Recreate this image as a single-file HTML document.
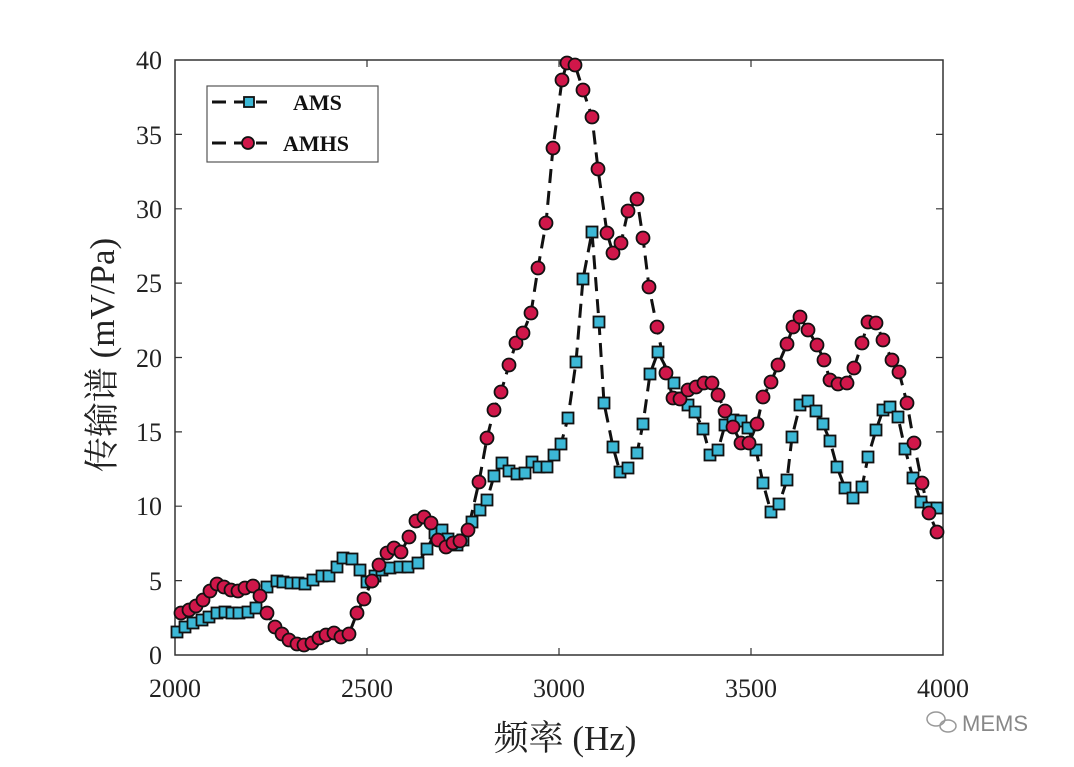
<!DOCTYPE html>
<html><head><meta charset="utf-8"><style>body{margin:0;background:#fff}svg{display:block}</style></head><body>
<svg width="1074" height="767" xmlns="http://www.w3.org/2000/svg" font-family="Liberation Serif, serif">
<rect width="1074" height="767" fill="#fff"/>
<rect x="175" y="60" width="768" height="595" fill="none" stroke="#333" stroke-width="1.5"/>
<g stroke="#333" stroke-width="1.2">
<path d="M367,655v-7M559,655v-7M751,655v-7M367,60v7M559,60v7M751,60v7"/>
<path d="M175,580.6h7M175,506.2h7M175,431.9h7M175,357.5h7M175,283.1h7M175,208.8h7M175,134.4h7"/>
<path d="M943,580.6h-7M943,506.2h-7M943,431.9h-7M943,357.5h-7M943,283.1h-7M943,208.8h-7M943,134.4h-7"/>
</g>
<g font-size="26" fill="#222" text-anchor="end">
<text x="162" y="664">0</text><text x="162" y="590">5</text><text x="162" y="515">10</text><text x="162" y="441">15</text><text x="162" y="367">20</text><text x="162" y="292">25</text><text x="162" y="218">30</text><text x="162" y="144">35</text><text x="162" y="69">40</text>
</g>
<g font-size="26" fill="#222" text-anchor="middle">
<text x="175" y="697">2000</text><text x="367" y="697">2500</text><text x="559" y="697">3000</text><text x="751" y="697">3500</text><text x="943" y="697">4000</text>
</g>
<text x="565" y="750" font-size="35" text-anchor="middle" fill="#222" font-family="Liberation Serif, Noto Serif CJK SC, serif">频率 (Hz)</text>
<text transform="translate(114,355) rotate(-90)" font-size="35" text-anchor="middle" fill="#222" font-family="Liberation Serif, Noto Serif CJK SC, serif">传输谱 (mV/Pa)</text>
<polyline fill="none" stroke="#111" stroke-width="3" stroke-dasharray="14,8" points="177,632 185,627 193,623 202,620 209,617 217,613 225,612 232,613 239,613 248,612 256,608 267,587 277,581 283,582 291,583 298,583 305,584 313,580 322,576 329,576 337,567 343,558 352,559 360,570 367,582 375,576 382,570 390,568 400,567 408,567 418,563 427,549 435,533 442,530 448,539 457,545 463,540 472,522 480,510 487,500 494,476 502,463 509,471 517,474 525,473 532,462 539,467 547,467 554,455 561,444 568,418 576,362 583,279 592,232 599,322 604,403 613,447 620,472 628,468 637,453 643,424 650,374 658,352 674,383 680,398 688,405 695,412 703,429 710,455 718,450 725,425 733,420 741,421 748,428 756,450 763,483 771,512 779,504 787,480 792,437 800,405 808,401 816,411 823,424 830,441 837,467 845,488 853,498 862,487 868,457 876,430 883,410 890,407 898,417 905,449 913,478 921,502 929,508 937,508"/>
<polyline fill="none" stroke="#111" stroke-width="3" stroke-dasharray="14,8" points="181,613 189,610 196,606 203,600 210,591 217,584 224,587 231,590 238,591 245,588 253,586 260,596 267,613 275,627 282,634 289,640 297,644 304,645 312,643 319,638 326,635 334,633 341,637 349,634 357,613 364,599 372,581 379,565 387,553 394,548 401,552 409,537 416,521 424,517 431,523 438,540 446,547 453,543 460,541 468,530 479,482 487,438 494,410 501,392 509,365 516,343 523,333 531,313 538,268 546,223 553,148 562,80 567,63 575,65 583,90 592,117 598,169 607,233 613,253 621,243 628,211 637,199 643,238 649,287 657,327 666,373 673,398 680,399 688,390 696,387 704,383 712,383 718,395 725,411 733,427 741,443 749,443 757,424 763,397 771,382 778,365 787,344 793,327 800,317 808,330 817,345 824,360 830,380 838,384 847,383 854,368 862,343 868,322 876,323 883,340 892,360 899,372 907,403 914,443 922,483 929,513 937,532"/>
<g id="sq" fill="#3cb8d6" stroke="#111" stroke-width="1.8"></g>
<g id="ci" fill="#d0174a" stroke="#111" stroke-width="1.8"></g>
<script>
var sq="177,632 185,627 193,623 202,620 209,617 217,613 225,612 232,613 239,613 248,612 256,608 267,587 277,581 283,582 291,583 298,583 305,584 313,580 322,576 329,576 337,567 343,558 352,559 360,570 367,582 375,576 382,570 390,568 400,567 408,567 418,563 427,549 435,533 442,530 448,539 457,545 463,540 472,522 480,510 487,500 494,476 502,463 509,471 517,474 525,473 532,462 539,467 547,467 554,455 561,444 568,418 576,362 583,279 592,232 599,322 604,403 613,447 620,472 628,468 637,453 643,424 650,374 658,352 674,383 680,398 688,405 695,412 703,429 710,455 718,450 725,425 733,420 741,421 748,428 756,450 763,483 771,512 779,504 787,480 792,437 800,405 808,401 816,411 823,424 830,441 837,467 845,488 853,498 862,487 868,457 876,430 883,410 890,407 898,417 905,449 913,478 921,502 929,508 937,508";
var ci="181,613 189,610 196,606 203,600 210,591 217,584 224,587 231,590 238,591 245,588 253,586 260,596 267,613 275,627 282,634 289,640 297,644 304,645 312,643 319,638 326,635 334,633 341,637 349,634 357,613 364,599 372,581 379,565 387,553 394,548 401,552 409,537 416,521 424,517 431,523 438,540 446,547 453,543 460,541 468,530 479,482 487,438 494,410 501,392 509,365 516,343 523,333 531,313 538,268 546,223 553,148 562,80 567,63 575,65 583,90 592,117 598,169 607,233 613,253 621,243 628,211 637,199 643,238 649,287 657,327 666,373 673,398 680,399 688,390 696,387 704,383 712,383 718,395 725,411 733,427 741,443 749,443 757,424 763,397 771,382 778,365 787,344 793,327 800,317 808,330 817,345 824,360 830,380 838,384 847,383 854,368 862,343 868,322 876,323 883,340 892,360 899,372 907,403 914,443 922,483 929,513 937,532";
var ns="http://www.w3.org/2000/svg",g=document.getElementById('sq'),g2=document.getElementById('ci');
sq.split(' ').forEach(function(p){var a=p.split(','),r=document.createElementNS(ns,'rect');r.setAttribute('x',a[0]-5.5);r.setAttribute('y',a[1]-5.5);r.setAttribute('width',11);r.setAttribute('height',11);g.appendChild(r);});
ci.split(' ').forEach(function(p){var a=p.split(','),c=document.createElementNS(ns,'circle');c.setAttribute('cx',a[0]);c.setAttribute('cy',a[1]);c.setAttribute('r',6.5);g2.appendChild(c);});
</script>
<g>
<rect x="207" y="86" width="171" height="76" fill="#fff" stroke="#555" stroke-width="1.2"/>
<path d="M212,102h55M212,143h55" stroke="#111" stroke-width="3" stroke-dasharray="14,8"/>
<rect x="244" y="97" width="10" height="10" fill="#3cb8d6" stroke="#111" stroke-width="1.8"/>
<circle cx="248" cy="143" r="6" fill="#d0174a" stroke="#111" stroke-width="1.8"/>
<text x="293" y="110" font-size="22" font-weight="bold" fill="#111">AMS</text>
<text x="283" y="151" font-size="22" font-weight="bold" fill="#111">AMHS</text>
</g>
<g fill="none" stroke="#999" stroke-width="1.5"><ellipse cx="936" cy="719" rx="9" ry="7"/><ellipse cx="948" cy="726" rx="8" ry="6"/></g>
<text x="962" y="731" font-size="22" fill="#888" font-family="Liberation Sans, sans-serif">MEMS</text>
</svg>
</body></html>
